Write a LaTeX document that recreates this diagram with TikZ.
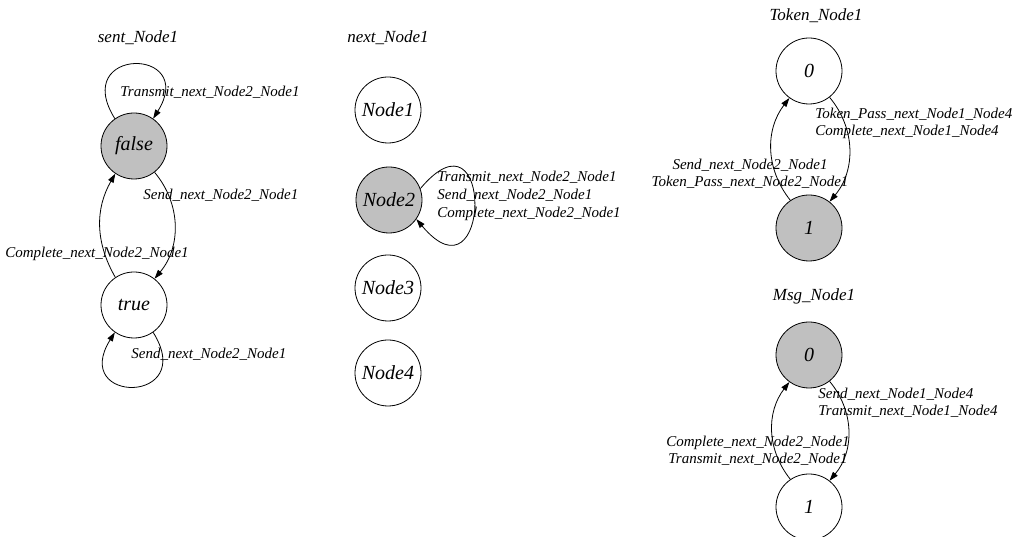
\documentclass[tikz,border=0pt]{standalone}
\usepackage{fontspec}
\setmainfont{Liberation Serif}
\usetikzlibrary{arrows.meta}
\definecolor{statefill}{RGB}{192,192,192}
\tikzset{>/.tip={Triangle[length=9pt,width=6pt]},
  state/.style={circle,draw,line width=0.8pt,minimum size=66pt,inner sep=0pt,font=\fontsize{20}{24}\selectfont\itshape},
  cur/.style={state,fill=statefill},
  ttl/.style={font=\fontsize{17}{20}\selectfont\itshape},
  lbl/.style={font=\fontsize{15}{17}\selectfont\itshape,inner sep=0pt,anchor=west}}

\begin{document}
\begin{tikzpicture}[x=1pt,y=1pt,line width=0.8pt]
\useasboundingbox (0,0) rectangle (1026,537);

\node[ttl] (ts) at (138,499) {sent\_Node1};
\node[cur] (f) at (134,391) {false};
\node[state] (t) at (134,232) {true};

\node[ttl] (tn) at (388,499) {next\_Node1};
\node[state] (n1) at (388,427) {Node1};
\node[cur] (n2) at (389,337) {Node2};
\node[state] (n3) at (388,249) {Node3};
\node[state] (n4) at (388,164) {Node4};

\node[ttl] (tt) at (816,521) {Token\_Node1};
\node[state] (k0) at (809,466) {0};
\node[cur] (k1) at (809,309) {1};

\node[ttl] (tm) at (814,241) {Msg\_Node1};
\node[cur] (m0) at (809,182) {0};
\node[state] (m1) at (809,30) {1};

\path[->] (f.125) edge[out=122,in=58,looseness=5.7] (f.55);
\path[->] (f.-52) edge[bend left=40] (t.52);
\path[->] (t.124) edge[bend left=30] (f.-124);
\path[->] (t.-55) edge[out=-58,in=-122,looseness=5.7] (t.-125);
\path[->] (n2.20) edge[out=50,in=-50,looseness=9.6] (n2.-35);
\path[->] (k0.-52) edge[bend left=40] (k1.52);
\path[->] (k1.124) edge[bend left=38] (k0.-126);
\path[->] (m0.-52) edge[bend left=40] (m1.52);
\path[->] (m1.124) edge[bend left=38] (m0.-126);

\node[lbl] (l1) at (120,444.6) {Transmit\_next\_Node2\_Node1};
\node[lbl] (l2) at (143,341.6) {Send\_next\_Node2\_Node1};
\node[lbl] (l3) at (5,283) {Complete\_next\_Node2\_Node1};
\node[lbl] (l4) at (131,183) {Send\_next\_Node2\_Node1};
\node[lbl,align=left,font=\fontsize{15}{18}\selectfont\itshape] (l5) at (437,341) {Transmit\_next\_Node2\_Node1\\Send\_next\_Node2\_Node1\\Complete\_next\_Node2\_Node1};
\node[lbl,align=left] (l6) at (815,413.6) {Token\_Pass\_next\_Node1\_Node4\\Complete\_next\_Node1\_Node4};
\node[lbl,anchor=center,align=center] (l7) at (750,363) {Send\_next\_Node2\_Node1\\Token\_Pass\_next\_Node2\_Node1};
\node[lbl,align=left] (l8) at (818,134.6) {Send\_next\_Node1\_Node4\\Transmit\_next\_Node1\_Node4};
\node[lbl,anchor=center,align=center] (l9) at (758,86.6) {Complete\_next\_Node2\_Node1\\Transmit\_next\_Node2\_Node1};
\end{tikzpicture}
\end{document}
